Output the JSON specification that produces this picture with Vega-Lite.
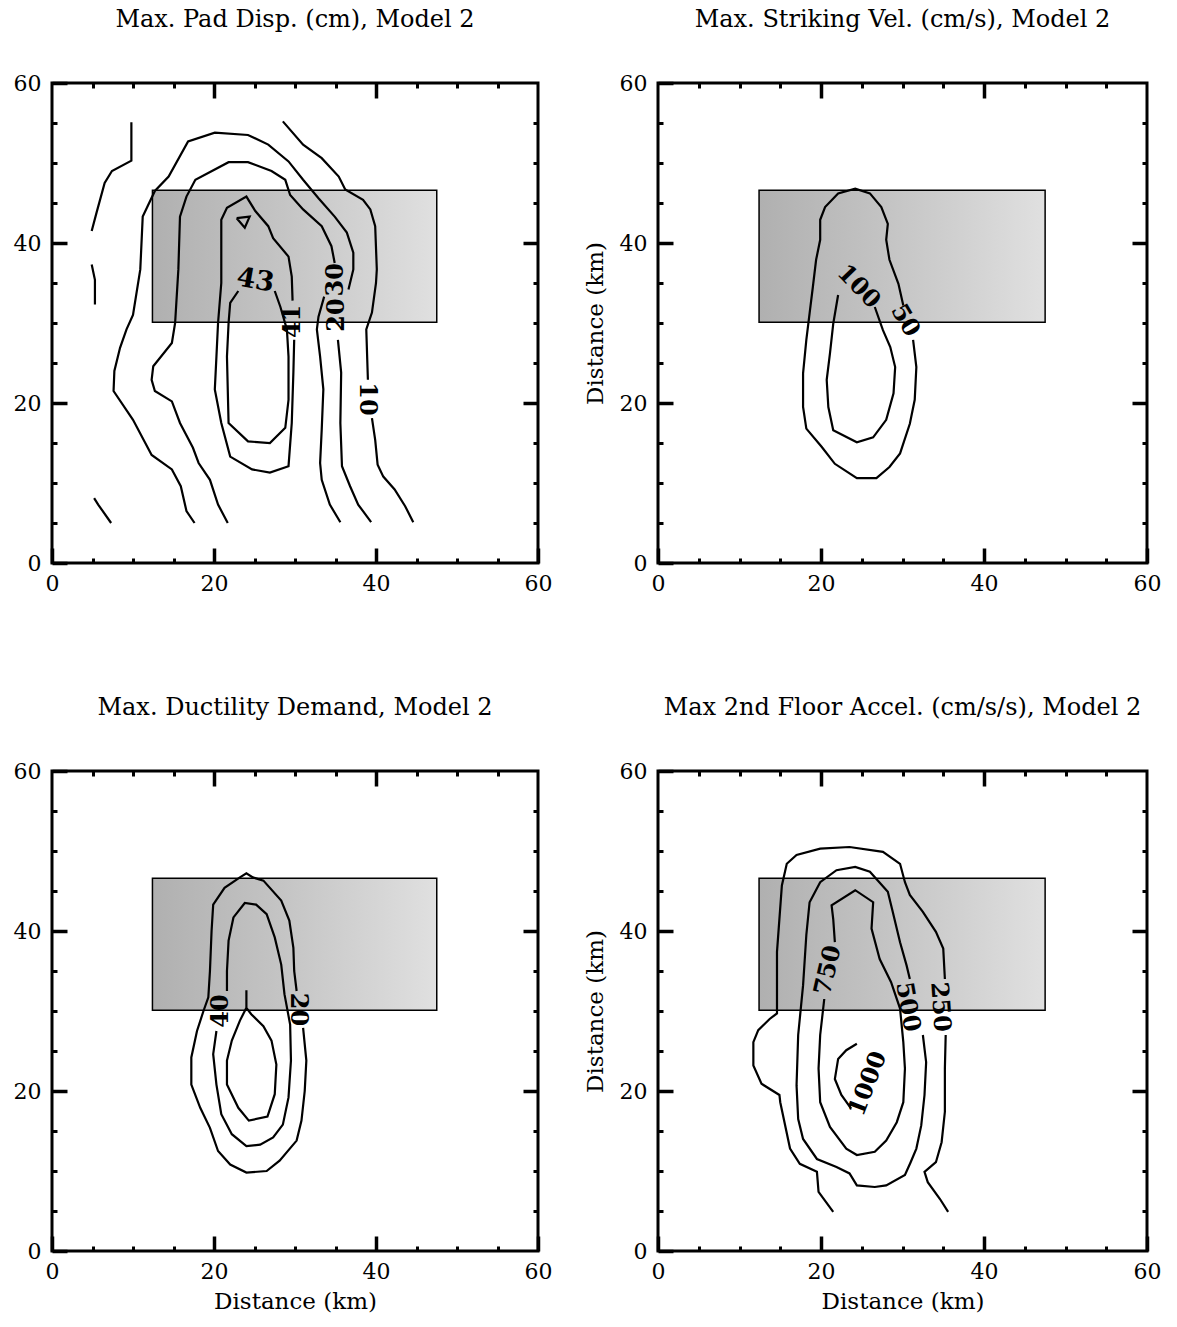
{
  "$schema": "https://vega.github.io/schema/vega-lite/v6.json",
  "background": "white",
  "padding": {"left": 11, "top": 6, "right": 5, "bottom": 5},
  "config": {
    "view": {"stroke": "black", "strokeWidth": 3, "fill": "white"},
    "axis": {"domain": false, "grid": false, "tickColor": "black", "tickCap": "butt", "labelColor": "black", "labelFont": "DejaVu Serif", "labelFontSize": 22, "titleFont": "DejaVu Serif", "titleFontSize": 23, "titleFontWeight": "normal", "titleColor": "black"},
    "title": {"font": "DejaVu Serif", "fontSize": 24, "fontWeight": "normal", "color": "black", "offset": 40, "anchor": "middle"},
    "text": {"font": "DejaVu Serif", "fontWeight": "bold", "fontSize": 24, "color": "black"}
  },
  "datasets": {
    "fault": [{"x0": 12.4, "x1": 47.5, "y0": 30.1, "y1": 46.6}],
    "labels": [
      {"p": "TL", "t": "43", "x": 25.1, "y": 35.3},
      {"p": "TL", "t": "41", "x": 29.7, "y": 30.2},
      {"p": "TL", "t": "30", "x": 35.0, "y": 35.4},
      {"p": "TL", "t": "20", "x": 35.2, "y": 31.0},
      {"p": "TL", "t": "10", "x": 38.9, "y": 20.5},
      {"p": "TR", "t": "100", "x": 24.6, "y": 34.5},
      {"p": "TR", "t": "50", "x": 30.3, "y": 30.3},
      {"p": "BL", "t": "20", "x": 30.4, "y": 30.2},
      {"p": "BL", "t": "40", "x": 20.9, "y": 30.0},
      {"p": "BR", "t": "750", "x": 20.9, "y": 35.1},
      {"p": "BR", "t": "500", "x": 30.6, "y": 30.5},
      {"p": "BR", "t": "250", "x": 34.6, "y": 30.5},
      {"p": "BR", "t": "1000", "x": 25.8, "y": 20.9}
    ],
    "lines": [
      {"p":"TL","c":"a1","i":0,"x":9.8,"y":55.1},{"p":"TL","c":"a1","i":1,"x":9.8,"y":50.3},{"p":"TL","c":"a1","i":2,"x":7.4,"y":49.0},{"p":"TL","c":"a1","i":3,"x":6.5,"y":47.5},{"p":"TL","c":"a1","i":4,"x":5.5,"y":43.8},{"p":"TL","c":"a1","i":5,"x":4.9,"y":41.5},
      {"p":"TL","c":"a2","i":0,"x":4.9,"y":37.3},{"p":"TL","c":"a2","i":1,"x":5.3,"y":35.4},{"p":"TL","c":"a2","i":2,"x":5.3,"y":32.3},
      {"p":"TL","c":"a3","i":0,"x":5.2,"y":8.1},{"p":"TL","c":"a3","i":1,"x":5.7,"y":7.3},{"p":"TL","c":"a3","i":2,"x":7.3,"y":5.0},
      {"p":"TL","c":"a4","i":0,"x":28.5,"y":55.2},{"p":"TL","c":"a4","i":1,"x":31.0,"y":52.3},{"p":"TL","c":"a4","i":2,"x":33.3,"y":50.6},{"p":"TL","c":"a4","i":3,"x":35.4,"y":48.3},{"p":"TL","c":"a4","i":4,"x":36.2,"y":46.7},{"p":"TL","c":"a4","i":5,"x":38.4,"y":45.4},{"p":"TL","c":"a4","i":6,"x":39.3,"y":44.2},{"p":"TL","c":"a4","i":7,"x":39.9,"y":42.1},{"p":"TL","c":"a4","i":8,"x":40.1,"y":36.7},{"p":"TL","c":"a4","i":9,"x":40.0,"y":35.0},{"p":"TL","c":"a4","i":10,"x":39.5,"y":31.3},{"p":"TL","c":"a4","i":11,"x":38.8,"y":29.2},{"p":"TL","c":"a4","i":12,"x":39.0,"y":22.9},
      {"p":"TL","c":"a5","i":0,"x":39.5,"y":18.1},{"p":"TL","c":"a5","i":1,"x":39.9,"y":15.4},{"p":"TL","c":"a5","i":2,"x":40.2,"y":12.3},{"p":"TL","c":"a5","i":3,"x":40.9,"y":10.8},{"p":"TL","c":"a5","i":4,"x":42.3,"y":9.2},{"p":"TL","c":"a5","i":5,"x":43.6,"y":7.1},{"p":"TL","c":"a5","i":6,"x":44.6,"y":5.1},
      {"p":"TL","c":"b1","i":0,"x":17.6,"y":5.0},{"p":"TL","c":"b1","i":1,"x":16.6,"y":6.5},{"p":"TL","c":"b1","i":2,"x":15.9,"y":9.6},{"p":"TL","c":"b1","i":3,"x":14.8,"y":11.7},{"p":"TL","c":"b1","i":4,"x":12.3,"y":13.5},{"p":"TL","c":"b1","i":5,"x":10.0,"y":17.9},{"p":"TL","c":"b1","i":6,"x":7.6,"y":21.5},{"p":"TL","c":"b1","i":7,"x":7.7,"y":24.0},{"p":"TL","c":"b1","i":8,"x":8.4,"y":26.9},{"p":"TL","c":"b1","i":9,"x":9.2,"y":29.2},{"p":"TL","c":"b1","i":10,"x":10.0,"y":31.0},{"p":"TL","c":"b1","i":11,"x":10.9,"y":36.7},{"p":"TL","c":"b1","i":12,"x":11.2,"y":43.3},{"p":"TL","c":"b1","i":13,"x":12.7,"y":46.5},{"p":"TL","c":"b1","i":14,"x":14.4,"y":48.3},{"p":"TL","c":"b1","i":15,"x":16.8,"y":52.7},{"p":"TL","c":"b1","i":16,"x":20.1,"y":53.8},{"p":"TL","c":"b1","i":17,"x":24.2,"y":53.5},{"p":"TL","c":"b1","i":18,"x":26.7,"y":52.3},{"p":"TL","c":"b1","i":19,"x":29.2,"y":50.2},{"p":"TL","c":"b1","i":20,"x":31.0,"y":47.9},{"p":"TL","c":"b1","i":21,"x":32.9,"y":45.6},{"p":"TL","c":"b1","i":22,"x":34.9,"y":43.3},{"p":"TL","c":"b1","i":23,"x":36.4,"y":41.3},{"p":"TL","c":"b1","i":24,"x":37.2,"y":38.8},{"p":"TL","c":"b1","i":25,"x":37.2,"y":36.7},{"p":"TL","c":"b1","i":26,"x":36.6,"y":34.2},
      {"p":"TL","c":"b2","i":0,"x":35.3,"y":27.9},{"p":"TL","c":"b2","i":1,"x":35.7,"y":23.8},{"p":"TL","c":"b2","i":2,"x":35.6,"y":17.5},{"p":"TL","c":"b2","i":3,"x":35.8,"y":12.1},{"p":"TL","c":"b2","i":4,"x":36.8,"y":9.6},{"p":"TL","c":"b2","i":5,"x":37.8,"y":7.3},{"p":"TL","c":"b2","i":6,"x":39.4,"y":5.1},
      {"p":"TL","c":"c1","i":0,"x":21.7,"y":5.0},{"p":"TL","c":"c1","i":1,"x":20.5,"y":7.3},{"p":"TL","c":"c1","i":2,"x":19.5,"y":10.4},{"p":"TL","c":"c1","i":3,"x":18.1,"y":12.5},{"p":"TL","c":"c1","i":4,"x":17.4,"y":14.4},{"p":"TL","c":"c1","i":5,"x":15.8,"y":17.5},{"p":"TL","c":"c1","i":6,"x":14.8,"y":20.2},{"p":"TL","c":"c1","i":7,"x":12.7,"y":21.5},{"p":"TL","c":"c1","i":8,"x":12.3,"y":22.9},{"p":"TL","c":"c1","i":9,"x":12.5,"y":24.6},{"p":"TL","c":"c1","i":10,"x":14.8,"y":27.5},{"p":"TL","c":"c1","i":11,"x":15.2,"y":30.0},{"p":"TL","c":"c1","i":12,"x":15.6,"y":36.7},{"p":"TL","c":"c1","i":13,"x":15.8,"y":43.3},{"p":"TL","c":"c1","i":14,"x":16.6,"y":45.8},{"p":"TL","c":"c1","i":15,"x":17.7,"y":47.9},{"p":"TL","c":"c1","i":16,"x":21.8,"y":50.1},{"p":"TL","c":"c1","i":17,"x":24.2,"y":50.1},{"p":"TL","c":"c1","i":18,"x":27.1,"y":49.0},{"p":"TL","c":"c1","i":19,"x":28.8,"y":47.9},{"p":"TL","c":"c1","i":20,"x":29.4,"y":46.0},{"p":"TL","c":"c1","i":21,"x":31.0,"y":44.2},{"p":"TL","c":"c1","i":22,"x":33.3,"y":42.1},{"p":"TL","c":"c1","i":23,"x":34.5,"y":39.6},{"p":"TL","c":"c1","i":24,"x":34.9,"y":37.5},
      {"p":"TL","c":"c2","i":0,"x":33.6,"y":33.3},{"p":"TL","c":"c2","i":1,"x":32.9,"y":30.8},{"p":"TL","c":"c2","i":2,"x":32.7,"y":29.2},{"p":"TL","c":"c2","i":3,"x":33.1,"y":25.8},{"p":"TL","c":"c2","i":4,"x":33.5,"y":21.7},{"p":"TL","c":"c2","i":5,"x":33.3,"y":16.7},{"p":"TL","c":"c2","i":6,"x":33.1,"y":12.5},{"p":"TL","c":"c2","i":7,"x":33.3,"y":10.4},{"p":"TL","c":"c2","i":8,"x":34.3,"y":7.3},{"p":"TL","c":"c2","i":9,"x":35.6,"y":5.1},
      {"p":"TL","c":"d1","i":0,"x":29.9,"y":27.9},{"p":"TL","c":"d1","i":1,"x":29.8,"y":23.8},{"p":"TL","c":"d1","i":2,"x":29.6,"y":17.5},{"p":"TL","c":"d1","i":3,"x":29.2,"y":12.1},{"p":"TL","c":"d1","i":4,"x":26.9,"y":11.3},{"p":"TL","c":"d1","i":5,"x":24.7,"y":11.7},{"p":"TL","c":"d1","i":6,"x":22.0,"y":13.3},{"p":"TL","c":"d1","i":7,"x":20.9,"y":17.5},{"p":"TL","c":"d1","i":8,"x":20.1,"y":21.7},{"p":"TL","c":"d1","i":9,"x":20.3,"y":25.8},{"p":"TL","c":"d1","i":10,"x":20.5,"y":30.0},{"p":"TL","c":"d1","i":11,"x":20.9,"y":35.0},{"p":"TL","c":"d1","i":12,"x":20.9,"y":42.9},{"p":"TL","c":"d1","i":13,"x":21.6,"y":44.4},{"p":"TL","c":"d1","i":14,"x":24.0,"y":45.8},{"p":"TL","c":"d1","i":15,"x":25.1,"y":44.0},{"p":"TL","c":"d1","i":16,"x":26.7,"y":42.1},{"p":"TL","c":"d1","i":17,"x":27.3,"y":40.6},{"p":"TL","c":"d1","i":18,"x":29.2,"y":38.3},{"p":"TL","c":"d1","i":19,"x":29.6,"y":35.8},{"p":"TL","c":"d1","i":20,"x":29.7,"y":32.8},
      {"p":"TL","c":"e1","i":0,"x":23.0,"y":34.0},{"p":"TL","c":"e1","i":1,"x":22.0,"y":32.5},{"p":"TL","c":"e1","i":2,"x":21.8,"y":30.0},{"p":"TL","c":"e1","i":3,"x":21.6,"y":25.8},{"p":"TL","c":"e1","i":4,"x":21.8,"y":17.5},{"p":"TL","c":"e1","i":5,"x":24.2,"y":15.2},{"p":"TL","c":"e1","i":6,"x":26.9,"y":15.0},{"p":"TL","c":"e1","i":7,"x":28.8,"y":16.9},{"p":"TL","c":"e1","i":8,"x":29.2,"y":20.4},{"p":"TL","c":"e1","i":9,"x":29.2,"y":25.8},{"p":"TL","c":"e1","i":10,"x":29.0,"y":29.2},{"p":"TL","c":"e1","i":11,"x":28.2,"y":32.0},{"p":"TL","c":"e1","i":12,"x":27.5,"y":34.0},
      {"p":"TL","c":"f1","i":0,"x":22.8,"y":43.1},{"p":"TL","c":"f1","i":1,"x":24.4,"y":43.3},{"p":"TL","c":"f1","i":2,"x":23.8,"y":41.9},{"p":"TL","c":"f1","i":3,"x":22.8,"y":43.1},
      {"p":"TR","c":"g1","i":0,"x":22.1,"y":33.5},{"p":"TR","c":"g1","i":1,"x":21.5,"y":29.9},{"p":"TR","c":"g1","i":2,"x":21.1,"y":26.2},{"p":"TR","c":"g1","i":3,"x":20.7,"y":22.9},{"p":"TR","c":"g1","i":4,"x":20.9,"y":19.5},{"p":"TR","c":"g1","i":5,"x":21.5,"y":16.6},{"p":"TR","c":"g1","i":6,"x":24.4,"y":15.1},{"p":"TR","c":"g1","i":7,"x":26.4,"y":15.7},{"p":"TR","c":"g1","i":8,"x":28.0,"y":17.9},{"p":"TR","c":"g1","i":9,"x":28.9,"y":21.2},{"p":"TR","c":"g1","i":10,"x":29.1,"y":24.5},{"p":"TR","c":"g1","i":11,"x":28.5,"y":27.0},{"p":"TR","c":"g1","i":12,"x":27.6,"y":29.1},{"p":"TR","c":"g1","i":13,"x":26.6,"y":32.0},
      {"p":"TR","c":"h1","i":0,"x":31.3,"y":27.9},{"p":"TR","c":"h1","i":1,"x":31.7,"y":24.5},{"p":"TR","c":"h1","i":2,"x":31.5,"y":20.4},{"p":"TR","c":"h1","i":3,"x":30.9,"y":17.4},{"p":"TR","c":"h1","i":4,"x":29.7,"y":13.7},{"p":"TR","c":"h1","i":5,"x":28.4,"y":12.0},{"p":"TR","c":"h1","i":6,"x":26.8,"y":10.6},{"p":"TR","c":"h1","i":7,"x":24.4,"y":10.6},{"p":"TR","c":"h1","i":8,"x":21.7,"y":12.4},{"p":"TR","c":"h1","i":9,"x":20.1,"y":14.5},{"p":"TR","c":"h1","i":10,"x":18.2,"y":16.8},{"p":"TR","c":"h1","i":11,"x":17.8,"y":19.5},{"p":"TR","c":"h1","i":12,"x":17.8,"y":23.7},{"p":"TR","c":"h1","i":13,"x":18.2,"y":27.9},{"p":"TR","c":"h1","i":14,"x":18.6,"y":31.2},{"p":"TR","c":"h1","i":15,"x":19.0,"y":34.5},{"p":"TR","c":"h1","i":16,"x":19.4,"y":37.9},{"p":"TR","c":"h1","i":17,"x":19.9,"y":40.4},{"p":"TR","c":"h1","i":18,"x":19.9,"y":42.9},{"p":"TR","c":"h1","i":19,"x":20.5,"y":44.5},{"p":"TR","c":"h1","i":20,"x":22.1,"y":46.2},{"p":"TR","c":"h1","i":21,"x":24.2,"y":46.8},{"p":"TR","c":"h1","i":22,"x":26.0,"y":46.2},{"p":"TR","c":"h1","i":23,"x":27.4,"y":44.5},{"p":"TR","c":"h1","i":24,"x":28.2,"y":42.4},{"p":"TR","c":"h1","i":25,"x":28.0,"y":40.4},{"p":"TR","c":"h1","i":26,"x":28.4,"y":37.9},{"p":"TR","c":"h1","i":27,"x":29.5,"y":34.9},{"p":"TR","c":"h1","i":28,"x":30.1,"y":32.2},
      {"p":"BL","c":"i1","i":0,"x":31.0,"y":27.9},{"p":"BL","c":"i1","i":1,"x":31.4,"y":23.8},{"p":"BL","c":"i1","i":2,"x":31.2,"y":20.0},{"p":"BL","c":"i1","i":3,"x":30.8,"y":16.3},{"p":"BL","c":"i1","i":4,"x":30.2,"y":13.8},{"p":"BL","c":"i1","i":5,"x":28.1,"y":11.3},{"p":"BL","c":"i1","i":6,"x":26.5,"y":10.0},{"p":"BL","c":"i1","i":7,"x":24.0,"y":9.8},{"p":"BL","c":"i1","i":8,"x":22.0,"y":10.8},{"p":"BL","c":"i1","i":9,"x":20.5,"y":12.5},{"p":"BL","c":"i1","i":10,"x":19.5,"y":15.4},{"p":"BL","c":"i1","i":11,"x":18.3,"y":17.9},{"p":"BL","c":"i1","i":12,"x":17.2,"y":20.8},{"p":"BL","c":"i1","i":13,"x":17.2,"y":24.2},{"p":"BL","c":"i1","i":14,"x":17.9,"y":27.5},{"p":"BL","c":"i1","i":15,"x":18.7,"y":30.0},{"p":"BL","c":"i1","i":16,"x":19.3,"y":31.7},{"p":"BL","c":"i1","i":17,"x":19.5,"y":35.0},{"p":"BL","c":"i1","i":18,"x":19.7,"y":40.0},{"p":"BL","c":"i1","i":19,"x":19.9,"y":43.3},{"p":"BL","c":"i1","i":20,"x":21.3,"y":45.4},{"p":"BL","c":"i1","i":21,"x":23.2,"y":46.7},{"p":"BL","c":"i1","i":22,"x":24.0,"y":47.2},{"p":"BL","c":"i1","i":23,"x":24.8,"y":46.7},{"p":"BL","c":"i1","i":24,"x":26.1,"y":46.3},{"p":"BL","c":"i1","i":25,"x":28.3,"y":43.8},{"p":"BL","c":"i1","i":26,"x":29.3,"y":41.3},{"p":"BL","c":"i1","i":27,"x":29.8,"y":37.9},{"p":"BL","c":"i1","i":28,"x":29.9,"y":35.0},{"p":"BL","c":"i1","i":29,"x":30.2,"y":32.5},
      {"p":"BL","c":"j1","i":0,"x":21.6,"y":32.5},{"p":"BL","c":"j1","i":1,"x":21.6,"y":35.0},{"p":"BL","c":"j1","i":2,"x":21.8,"y":38.8},{"p":"BL","c":"j1","i":3,"x":22.4,"y":41.7},{"p":"BL","c":"j1","i":4,"x":23.8,"y":43.5},{"p":"BL","c":"j1","i":5,"x":25.2,"y":43.3},{"p":"BL","c":"j1","i":6,"x":26.5,"y":42.1},{"p":"BL","c":"j1","i":7,"x":27.5,"y":39.2},{"p":"BL","c":"j1","i":8,"x":28.3,"y":35.8},{"p":"BL","c":"j1","i":9,"x":28.7,"y":32.1},{"p":"BL","c":"j1","i":10,"x":29.4,"y":28.3},{"p":"BL","c":"j1","i":11,"x":29.5,"y":23.8},{"p":"BL","c":"j1","i":12,"x":29.2,"y":19.2},{"p":"BL","c":"j1","i":13,"x":28.5,"y":15.8},{"p":"BL","c":"j1","i":14,"x":27.3,"y":14.2},{"p":"BL","c":"j1","i":15,"x":25.7,"y":13.3},{"p":"BL","c":"j1","i":16,"x":24.0,"y":13.1},{"p":"BL","c":"j1","i":17,"x":22.2,"y":14.6},{"p":"BL","c":"j1","i":18,"x":20.9,"y":17.1},{"p":"BL","c":"j1","i":19,"x":20.3,"y":20.8},{"p":"BL","c":"j1","i":20,"x":19.9,"y":24.6},{"p":"BL","c":"j1","i":21,"x":20.3,"y":27.5},
      {"p":"BL","c":"k1","i":0,"x":24.0,"y":32.6},{"p":"BL","c":"k1","i":1,"x":24.0,"y":30.4},{"p":"BL","c":"k1","i":2,"x":23.2,"y":28.8},{"p":"BL","c":"k1","i":3,"x":22.2,"y":26.3},{"p":"BL","c":"k1","i":4,"x":21.6,"y":23.8},{"p":"BL","c":"k1","i":5,"x":21.6,"y":20.8},{"p":"BL","c":"k1","i":6,"x":23.0,"y":17.9},{"p":"BL","c":"k1","i":7,"x":24.3,"y":16.3},{"p":"BL","c":"k1","i":8,"x":26.6,"y":16.8},{"p":"BL","c":"k1","i":9,"x":27.5,"y":19.6},{"p":"BL","c":"k1","i":10,"x":27.7,"y":23.3},{"p":"BL","c":"k1","i":11,"x":27.1,"y":26.3},{"p":"BL","c":"k1","i":12,"x":26.1,"y":28.1},{"p":"BL","c":"k1","i":13,"x":24.6,"y":29.6},{"p":"BL","c":"k1","i":14,"x":24.0,"y":30.4},
      {"p":"BR","c":"l1","i":0,"x":21.5,"y":4.9},{"p":"BR","c":"l1","i":1,"x":19.7,"y":7.4},{"p":"BR","c":"l1","i":2,"x":19.5,"y":9.9},{"p":"BR","c":"l1","i":3,"x":17.4,"y":10.9},{"p":"BR","c":"l1","i":4,"x":16.2,"y":12.8},{"p":"BR","c":"l1","i":5,"x":15.0,"y":18.6},{"p":"BR","c":"l1","i":6,"x":14.9,"y":19.5},{"p":"BR","c":"l1","i":7,"x":12.7,"y":20.9},{"p":"BR","c":"l1","i":8,"x":11.7,"y":23.2},{"p":"BR","c":"l1","i":9,"x":11.7,"y":26.1},{"p":"BR","c":"l1","i":10,"x":12.3,"y":27.6},{"p":"BR","c":"l1","i":11,"x":13.7,"y":29.0},{"p":"BR","c":"l1","i":12,"x":14.6,"y":29.7},{"p":"BR","c":"l1","i":13,"x":14.6,"y":37.4},{"p":"BR","c":"l1","i":14,"x":15.2,"y":45.7},{"p":"BR","c":"l1","i":15,"x":15.8,"y":48.4},{"p":"BR","c":"l1","i":16,"x":17.0,"y":49.5},{"p":"BR","c":"l1","i":17,"x":19.9,"y":50.3},{"p":"BR","c":"l1","i":18,"x":23.5,"y":50.5},{"p":"BR","c":"l1","i":19,"x":27.6,"y":49.9},{"p":"BR","c":"l1","i":20,"x":29.7,"y":48.4},{"p":"BR","c":"l1","i":21,"x":30.3,"y":46.1},{"p":"BR","c":"l1","i":22,"x":30.9,"y":44.5},{"p":"BR","c":"l1","i":23,"x":32.5,"y":42.4},{"p":"BR","c":"l1","i":24,"x":34.1,"y":39.9},{"p":"BR","c":"l1","i":25,"x":35.0,"y":37.8},{"p":"BR","c":"l1","i":26,"x":35.2,"y":34.0},
      {"p":"BR","c":"l2","i":0,"x":35.3,"y":27.0},{"p":"BR","c":"l2","i":1,"x":35.2,"y":22.8},{"p":"BR","c":"l2","i":2,"x":35.2,"y":17.4},{"p":"BR","c":"l2","i":3,"x":34.8,"y":13.6},{"p":"BR","c":"l2","i":4,"x":34.1,"y":11.1},{"p":"BR","c":"l2","i":5,"x":32.7,"y":9.9},{"p":"BR","c":"l2","i":6,"x":33.1,"y":8.6},{"p":"BR","c":"l2","i":7,"x":34.6,"y":6.5},{"p":"BR","c":"l2","i":8,"x":35.6,"y":4.9},
      {"p":"BR","c":"m1","i":0,"x":32.5,"y":27.0},{"p":"BR","c":"m1","i":1,"x":32.9,"y":23.6},{"p":"BR","c":"m1","i":2,"x":32.7,"y":19.5},{"p":"BR","c":"m1","i":3,"x":32.3,"y":15.7},{"p":"BR","c":"m1","i":4,"x":31.7,"y":12.8},{"p":"BR","c":"m1","i":5,"x":31.0,"y":11.1},{"p":"BR","c":"m1","i":6,"x":30.3,"y":9.5},{"p":"BR","c":"m1","i":7,"x":28.0,"y":8.2},{"p":"BR","c":"m1","i":8,"x":26.6,"y":8.0},{"p":"BR","c":"m1","i":9,"x":24.4,"y":8.2},{"p":"BR","c":"m1","i":10,"x":23.5,"y":9.7},{"p":"BR","c":"m1","i":11,"x":21.9,"y":10.5},{"p":"BR","c":"m1","i":12,"x":19.5,"y":11.5},{"p":"BR","c":"m1","i":13,"x":17.8,"y":14.0},{"p":"BR","c":"m1","i":14,"x":17.2,"y":16.5},{"p":"BR","c":"m1","i":15,"x":17.0,"y":20.7},{"p":"BR","c":"m1","i":16,"x":17.2,"y":27.0},{"p":"BR","c":"m1","i":17,"x":17.8,"y":33.2},{"p":"BR","c":"m1","i":18,"x":18.2,"y":39.5},{"p":"BR","c":"m1","i":19,"x":18.6,"y":43.6},{"p":"BR","c":"m1","i":20,"x":19.9,"y":46.1},{"p":"BR","c":"m1","i":21,"x":21.9,"y":47.6},{"p":"BR","c":"m1","i":22,"x":24.2,"y":48.0},{"p":"BR","c":"m1","i":23,"x":26.0,"y":47.4},{"p":"BR","c":"m1","i":24,"x":28.2,"y":44.9},{"p":"BR","c":"m1","i":25,"x":28.8,"y":42.4},{"p":"BR","c":"m1","i":26,"x":29.7,"y":38.6},{"p":"BR","c":"m1","i":27,"x":30.5,"y":35.7},{"p":"BR","c":"m1","i":28,"x":30.9,"y":34.0},
      {"p":"BR","c":"n1","i":0,"x":21.7,"y":38.6},{"p":"BR","c":"n1","i":1,"x":21.5,"y":41.5},{"p":"BR","c":"n1","i":2,"x":21.3,"y":43.2},{"p":"BR","c":"n1","i":3,"x":24.2,"y":45.1},{"p":"BR","c":"n1","i":4,"x":26.4,"y":43.6},{"p":"BR","c":"n1","i":5,"x":26.2,"y":40.3},{"p":"BR","c":"n1","i":6,"x":27.2,"y":36.5},{"p":"BR","c":"n1","i":7,"x":28.6,"y":33.6},{"p":"BR","c":"n1","i":8,"x":29.7,"y":30.3},{"p":"BR","c":"n1","i":9,"x":30.1,"y":26.1},{"p":"BR","c":"n1","i":10,"x":30.3,"y":22.8},{"p":"BR","c":"n1","i":11,"x":30.1,"y":18.6},{"p":"BR","c":"n1","i":12,"x":29.3,"y":16.1},{"p":"BR","c":"n1","i":13,"x":28.0,"y":13.8},{"p":"BR","c":"n1","i":14,"x":26.6,"y":12.4},{"p":"BR","c":"n1","i":15,"x":24.4,"y":12.0},{"p":"BR","c":"n1","i":16,"x":23.1,"y":12.8},{"p":"BR","c":"n1","i":17,"x":21.1,"y":15.5},{"p":"BR","c":"n1","i":18,"x":19.9,"y":18.6},{"p":"BR","c":"n1","i":19,"x":19.7,"y":22.8},{"p":"BR","c":"n1","i":20,"x":19.9,"y":27.0},{"p":"BR","c":"n1","i":21,"x":20.4,"y":31.5},
      {"p":"BR","c":"o1","i":0,"x":24.4,"y":25.9},{"p":"BR","c":"o1","i":1,"x":23.1,"y":25.1},{"p":"BR","c":"o1","i":2,"x":22.1,"y":24.0},{"p":"BR","c":"o1","i":3,"x":21.7,"y":21.5},{"p":"BR","c":"o1","i":4,"x":22.5,"y":19.5},{"p":"BR","c":"o1","i":5,"x":23.7,"y":17.8}
    ]
  },
  "columns": 2,
  "bounds": "flush",
  "spacing": {"row": 208, "column": 120},
  "concat": [
    {
      "width": 486, "height": 480,
      "title": {"text": "Max. Pad Disp. (cm), Model 2"},
      "resolve": {"axis": {"x": "independent", "y": "independent"}},
      "layer": [
        {"data": {"name": "fault"},
         "mark": {"type": "rect", "fill": {"gradient": "linear", "x1": 0, "x2": 1, "y1": 0, "y2": 0, "stops": [{"offset": 0, "color": "#b0b0b0"}, {"offset": 0.45, "color": "#c4c4c4"}, {"offset": 1, "color": "#e0e0e0"}]}, "strokeWidth": 0},
         "encoding": {
           "x": {"field": "x0", "type": "quantitative", "scale": {"domain": [0, 60], "nice": false, "zero": false}, "axis": {"orient": "bottom", "values": [0, 20, 40, 60], "tickSize": -15, "tickWidth": 3.5, "labelPadding": 25, "labelFlush": false, "labelOverlap": false, "title": null}},
           "x2": {"field": "x1"},
           "y": {"field": "y0", "type": "quantitative", "scale": {"domain": [0, 60], "nice": false, "zero": false}, "axis": {"orient": "left", "values": [0, 20, 40, 60], "tickSize": -15, "tickWidth": 3.5, "labelPadding": 26, "labelFlush": false, "labelOverlap": false, "title": null}},
           "y2": {"field": "y1"}}},
        {"data": {"name": "fault"},
         "mark": {"type": "rect", "fill": null, "stroke": "black", "strokeWidth": 1.5},
         "encoding": {
           "x": {"field": "x0", "type": "quantitative", "scale": {"domain": [0, 60], "nice": false, "zero": false}, "axis": {"orient": "bottom", "values": [5, 10, 15, 25, 30, 35, 45, 50, 55], "tickSize": -5, "tickWidth": 3, "labels": false, "title": null}},
           "x2": {"field": "x1"},
           "y": {"field": "y0", "type": "quantitative", "scale": {"domain": [0, 60], "nice": false, "zero": false}, "axis": {"orient": "left", "values": [5, 10, 15, 25, 30, 35, 45, 50, 55], "tickSize": -5, "tickWidth": 3, "labels": false, "title": null}},
           "y2": {"field": "y1"}}},
        {"data": {"name": "lines"},
         "transform": [{"filter": "datum.p === 'TL'"}],
         "mark": {"type": "line", "stroke": "black", "strokeWidth": 2.2},
         "encoding": {
           "x": {"field": "x", "type": "quantitative", "scale": {"domain": [0, 60], "nice": false, "zero": false}, "axis": {"orient": "top", "values": [20, 40], "tickSize": -15, "tickWidth": 3.5, "labels": false, "title": null}},
           "y": {"field": "y", "type": "quantitative", "scale": {"domain": [0, 60], "nice": false, "zero": false}, "axis": {"orient": "right", "values": [20, 40], "tickSize": -15, "tickWidth": 3.5, "labels": false, "title": null}},
           "detail": {"field": "c", "type": "nominal"},
           "order": {"field": "i", "type": "quantitative"}}},
        {"data": {"name": "labels"},
         "transform": [{"filter": "datum.p === 'TL' && (datum.t === '41' || datum.t === '30' || datum.t === '20')"}],
         "mark": {"type": "text", "angle": 270},
         "encoding": {
           "x": {"field": "x", "type": "quantitative", "scale": {"domain": [0, 60], "nice": false, "zero": false}, "axis": {"orient": "top", "values": [5, 10, 15, 25, 30, 35, 45, 50, 55], "tickSize": -5, "tickWidth": 3, "labels": false, "title": null}},
           "y": {"field": "y", "type": "quantitative", "scale": {"domain": [0, 60], "nice": false, "zero": false}, "axis": {"orient": "right", "values": [5, 10, 15, 25, 30, 35, 45, 50, 55], "tickSize": -5, "tickWidth": 3, "labels": false, "title": null}},
           "text": {"field": "t", "type": "nominal"}}},
        {"data": {"name": "labels"},
         "transform": [{"filter": "datum.p === 'TL' && datum.t === '10'"}],
         "mark": {"type": "text", "angle": 90},
         "encoding": {
           "x": {"field": "x", "type": "quantitative", "axis": null},
           "y": {"field": "y", "type": "quantitative", "axis": null},
           "text": {"field": "t", "type": "nominal"}}},
        {"data": {"name": "labels"},
         "transform": [{"filter": "datum.p === 'TL' && datum.t === '43'"}],
         "mark": {"type": "text", "angle": 10, "fontSize": 27},
         "encoding": {
           "x": {"field": "x", "type": "quantitative", "axis": null},
           "y": {"field": "y", "type": "quantitative", "axis": null},
           "text": {"field": "t", "type": "nominal"}}}
      ]
    },
    {
      "width": 489, "height": 480,
      "title": {"text": "Max. Striking Vel. (cm/s), Model 2"},
      "resolve": {"axis": {"x": "independent", "y": "independent"}},
      "layer": [
        {"data": {"name": "fault"},
         "mark": {"type": "rect", "fill": {"gradient": "linear", "x1": 0, "x2": 1, "y1": 0, "y2": 0, "stops": [{"offset": 0, "color": "#b0b0b0"}, {"offset": 0.45, "color": "#c4c4c4"}, {"offset": 1, "color": "#e0e0e0"}]}, "strokeWidth": 0},
         "encoding": {
           "x": {"field": "x0", "type": "quantitative", "scale": {"domain": [0, 60], "nice": false, "zero": false}, "axis": {"orient": "bottom", "values": [0, 20, 40, 60], "tickSize": -15, "tickWidth": 3.5, "labelPadding": 25, "labelFlush": false, "labelOverlap": false, "title": null}},
           "x2": {"field": "x1"},
           "y": {"field": "y0", "type": "quantitative", "scale": {"domain": [0, 60], "nice": false, "zero": false}, "axis": {"orient": "left", "values": [0, 20, 40, 60], "tickSize": -15, "tickWidth": 3.5, "labelPadding": 26, "labelFlush": false, "labelOverlap": false, "title": "Distance (km)", "titlePadding": 12}},
           "y2": {"field": "y1"}}},
        {"data": {"name": "fault"},
         "mark": {"type": "rect", "fill": null, "stroke": "black", "strokeWidth": 1.5},
         "encoding": {
           "x": {"field": "x0", "type": "quantitative", "scale": {"domain": [0, 60], "nice": false, "zero": false}, "axis": {"orient": "bottom", "values": [5, 10, 15, 25, 30, 35, 45, 50, 55], "tickSize": -5, "tickWidth": 3, "labels": false, "title": null}},
           "x2": {"field": "x1"},
           "y": {"field": "y0", "type": "quantitative", "scale": {"domain": [0, 60], "nice": false, "zero": false}, "axis": {"orient": "left", "values": [5, 10, 15, 25, 30, 35, 45, 50, 55], "tickSize": -5, "tickWidth": 3, "labels": false, "title": null}},
           "y2": {"field": "y1"}}},
        {"data": {"name": "lines"},
         "transform": [{"filter": "datum.p === 'TR'"}],
         "mark": {"type": "line", "stroke": "black", "strokeWidth": 2.2},
         "encoding": {
           "x": {"field": "x", "type": "quantitative", "scale": {"domain": [0, 60], "nice": false, "zero": false}, "axis": {"orient": "top", "values": [20, 40], "tickSize": -15, "tickWidth": 3.5, "labels": false, "title": null}},
           "y": {"field": "y", "type": "quantitative", "scale": {"domain": [0, 60], "nice": false, "zero": false}, "axis": {"orient": "right", "values": [20, 40], "tickSize": -15, "tickWidth": 3.5, "labels": false, "title": null}},
           "detail": {"field": "c", "type": "nominal"},
           "order": {"field": "i", "type": "quantitative"}}},
        {"data": {"name": "labels"},
         "transform": [{"filter": "datum.p === 'TR' && datum.t === '100'"}],
         "mark": {"type": "text", "angle": 46},
         "encoding": {
           "x": {"field": "x", "type": "quantitative", "scale": {"domain": [0, 60], "nice": false, "zero": false}, "axis": {"orient": "top", "values": [5, 10, 15, 25, 30, 35, 45, 50, 55], "tickSize": -5, "tickWidth": 3, "labels": false, "title": null}},
           "y": {"field": "y", "type": "quantitative", "scale": {"domain": [0, 60], "nice": false, "zero": false}, "axis": {"orient": "right", "values": [5, 10, 15, 25, 30, 35, 45, 50, 55], "tickSize": -5, "tickWidth": 3, "labels": false, "title": null}},
           "text": {"field": "t", "type": "nominal"}}},
        {"data": {"name": "labels"},
         "transform": [{"filter": "datum.p === 'TR' && datum.t === '50'"}],
         "mark": {"type": "text", "angle": 60},
         "encoding": {
           "x": {"field": "x", "type": "quantitative", "axis": null},
           "y": {"field": "y", "type": "quantitative", "axis": null},
           "text": {"field": "t", "type": "nominal"}}}
      ]
    },
    {
      "width": 486, "height": 480,
      "title": {"text": "Max. Ductility Demand, Model 2"},
      "resolve": {"axis": {"x": "independent", "y": "independent"}},
      "layer": [
        {"data": {"name": "fault"},
         "mark": {"type": "rect", "fill": {"gradient": "linear", "x1": 0, "x2": 1, "y1": 0, "y2": 0, "stops": [{"offset": 0, "color": "#b0b0b0"}, {"offset": 0.45, "color": "#c4c4c4"}, {"offset": 1, "color": "#e0e0e0"}]}, "strokeWidth": 0},
         "encoding": {
           "x": {"field": "x0", "type": "quantitative", "scale": {"domain": [0, 60], "nice": false, "zero": false}, "axis": {"orient": "bottom", "values": [0, 20, 40, 60], "tickSize": -15, "tickWidth": 3.5, "labelPadding": 25, "labelFlush": false, "labelOverlap": false, "title": "Distance (km)", "titlePadding": 8}},
           "x2": {"field": "x1"},
           "y": {"field": "y0", "type": "quantitative", "scale": {"domain": [0, 60], "nice": false, "zero": false}, "axis": {"orient": "left", "values": [0, 20, 40, 60], "tickSize": -15, "tickWidth": 3.5, "labelPadding": 26, "labelFlush": false, "labelOverlap": false, "title": null}},
           "y2": {"field": "y1"}}},
        {"data": {"name": "fault"},
         "mark": {"type": "rect", "fill": null, "stroke": "black", "strokeWidth": 1.5},
         "encoding": {
           "x": {"field": "x0", "type": "quantitative", "scale": {"domain": [0, 60], "nice": false, "zero": false}, "axis": {"orient": "bottom", "values": [5, 10, 15, 25, 30, 35, 45, 50, 55], "tickSize": -5, "tickWidth": 3, "labels": false, "title": null}},
           "x2": {"field": "x1"},
           "y": {"field": "y0", "type": "quantitative", "scale": {"domain": [0, 60], "nice": false, "zero": false}, "axis": {"orient": "left", "values": [5, 10, 15, 25, 30, 35, 45, 50, 55], "tickSize": -5, "tickWidth": 3, "labels": false, "title": null}},
           "y2": {"field": "y1"}}},
        {"data": {"name": "lines"},
         "transform": [{"filter": "datum.p === 'BL'"}],
         "mark": {"type": "line", "stroke": "black", "strokeWidth": 2.2},
         "encoding": {
           "x": {"field": "x", "type": "quantitative", "scale": {"domain": [0, 60], "nice": false, "zero": false}, "axis": {"orient": "top", "values": [20, 40], "tickSize": -15, "tickWidth": 3.5, "labels": false, "title": null}},
           "y": {"field": "y", "type": "quantitative", "scale": {"domain": [0, 60], "nice": false, "zero": false}, "axis": {"orient": "right", "values": [20, 40], "tickSize": -15, "tickWidth": 3.5, "labels": false, "title": null}},
           "detail": {"field": "c", "type": "nominal"},
           "order": {"field": "i", "type": "quantitative"}}},
        {"data": {"name": "labels"},
         "transform": [{"filter": "datum.p === 'BL' && datum.t === '20'"}],
         "mark": {"type": "text", "angle": 90},
         "encoding": {
           "x": {"field": "x", "type": "quantitative", "scale": {"domain": [0, 60], "nice": false, "zero": false}, "axis": {"orient": "top", "values": [5, 10, 15, 25, 30, 35, 45, 50, 55], "tickSize": -5, "tickWidth": 3, "labels": false, "title": null}},
           "y": {"field": "y", "type": "quantitative", "scale": {"domain": [0, 60], "nice": false, "zero": false}, "axis": {"orient": "right", "values": [5, 10, 15, 25, 30, 35, 45, 50, 55], "tickSize": -5, "tickWidth": 3, "labels": false, "title": null}},
           "text": {"field": "t", "type": "nominal"}}},
        {"data": {"name": "labels"},
         "transform": [{"filter": "datum.p === 'BL' && datum.t === '40'"}],
         "mark": {"type": "text", "angle": 270},
         "encoding": {
           "x": {"field": "x", "type": "quantitative", "axis": null},
           "y": {"field": "y", "type": "quantitative", "axis": null},
           "text": {"field": "t", "type": "nominal"}}}
      ]
    },
    {
      "width": 489, "height": 480,
      "title": {"text": "Max 2nd Floor Accel. (cm/s/s), Model 2"},
      "resolve": {"axis": {"x": "independent", "y": "independent"}},
      "layer": [
        {"data": {"name": "fault"},
         "mark": {"type": "rect", "fill": {"gradient": "linear", "x1": 0, "x2": 1, "y1": 0, "y2": 0, "stops": [{"offset": 0, "color": "#b0b0b0"}, {"offset": 0.45, "color": "#c4c4c4"}, {"offset": 1, "color": "#e0e0e0"}]}, "strokeWidth": 0},
         "encoding": {
           "x": {"field": "x0", "type": "quantitative", "scale": {"domain": [0, 60], "nice": false, "zero": false}, "axis": {"orient": "bottom", "values": [0, 20, 40, 60], "tickSize": -15, "tickWidth": 3.5, "labelPadding": 25, "labelFlush": false, "labelOverlap": false, "title": "Distance (km)", "titlePadding": 8}},
           "x2": {"field": "x1"},
           "y": {"field": "y0", "type": "quantitative", "scale": {"domain": [0, 60], "nice": false, "zero": false}, "axis": {"orient": "left", "values": [0, 20, 40, 60], "tickSize": -15, "tickWidth": 3.5, "labelPadding": 26, "labelFlush": false, "labelOverlap": false, "title": "Distance (km)", "titlePadding": 12}},
           "y2": {"field": "y1"}}},
        {"data": {"name": "fault"},
         "mark": {"type": "rect", "fill": null, "stroke": "black", "strokeWidth": 1.5},
         "encoding": {
           "x": {"field": "x0", "type": "quantitative", "scale": {"domain": [0, 60], "nice": false, "zero": false}, "axis": {"orient": "bottom", "values": [5, 10, 15, 25, 30, 35, 45, 50, 55], "tickSize": -5, "tickWidth": 3, "labels": false, "title": null}},
           "x2": {"field": "x1"},
           "y": {"field": "y0", "type": "quantitative", "scale": {"domain": [0, 60], "nice": false, "zero": false}, "axis": {"orient": "left", "values": [5, 10, 15, 25, 30, 35, 45, 50, 55], "tickSize": -5, "tickWidth": 3, "labels": false, "title": null}},
           "y2": {"field": "y1"}}},
        {"data": {"name": "lines"},
         "transform": [{"filter": "datum.p === 'BR'"}],
         "mark": {"type": "line", "stroke": "black", "strokeWidth": 2.2},
         "encoding": {
           "x": {"field": "x", "type": "quantitative", "scale": {"domain": [0, 60], "nice": false, "zero": false}, "axis": {"orient": "top", "values": [20, 40], "tickSize": -15, "tickWidth": 3.5, "labels": false, "title": null}},
           "y": {"field": "y", "type": "quantitative", "scale": {"domain": [0, 60], "nice": false, "zero": false}, "axis": {"orient": "right", "values": [20, 40], "tickSize": -15, "tickWidth": 3.5, "labels": false, "title": null}},
           "detail": {"field": "c", "type": "nominal"},
           "order": {"field": "i", "type": "quantitative"}}},
        {"data": {"name": "labels"},
         "transform": [{"filter": "datum.p === 'BR' && datum.t === '750'"}],
         "mark": {"type": "text", "angle": 283},
         "encoding": {
           "x": {"field": "x", "type": "quantitative", "scale": {"domain": [0, 60], "nice": false, "zero": false}, "axis": {"orient": "top", "values": [5, 10, 15, 25, 30, 35, 45, 50, 55], "tickSize": -5, "tickWidth": 3, "labels": false, "title": null}},
           "y": {"field": "y", "type": "quantitative", "scale": {"domain": [0, 60], "nice": false, "zero": false}, "axis": {"orient": "right", "values": [5, 10, 15, 25, 30, 35, 45, 50, 55], "tickSize": -5, "tickWidth": 3, "labels": false, "title": null}},
           "text": {"field": "t", "type": "nominal"}}},
        {"data": {"name": "labels"},
         "transform": [{"filter": "datum.p === 'BR' && datum.t === '500'"}],
         "mark": {"type": "text", "angle": 80},
         "encoding": {
           "x": {"field": "x", "type": "quantitative", "axis": null},
           "y": {"field": "y", "type": "quantitative", "axis": null},
           "text": {"field": "t", "type": "nominal"}}},
        {"data": {"name": "labels"},
         "transform": [{"filter": "datum.p === 'BR' && datum.t === '250'"}],
         "mark": {"type": "text", "angle": 86},
         "encoding": {
           "x": {"field": "x", "type": "quantitative", "axis": null},
           "y": {"field": "y", "type": "quantitative", "axis": null},
           "text": {"field": "t", "type": "nominal"}}},
        {"data": {"name": "labels"},
         "transform": [{"filter": "datum.p === 'BR' && datum.t === '1000'"}],
         "mark": {"type": "text", "angle": 291},
         "encoding": {
           "x": {"field": "x", "type": "quantitative", "axis": null},
           "y": {"field": "y", "type": "quantitative", "axis": null},
           "text": {"field": "t", "type": "nominal"}}}
      ]
    }
  ]
}
